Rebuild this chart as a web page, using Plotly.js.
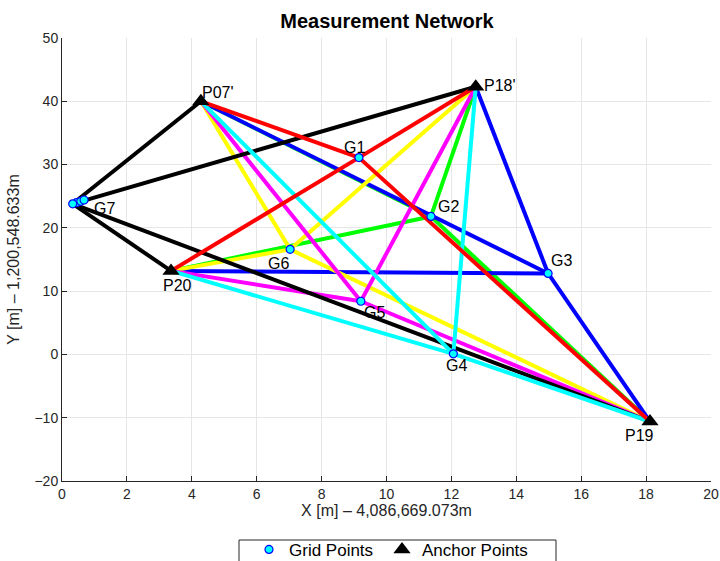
<!DOCTYPE html>
<html>
<head>
<meta charset="utf-8">
<script src="https://cdn.plot.ly/plotly-3.0.1.min.js"></script>
<style>html,body{margin:0;padding:0;background:#fff;}#chart{width:720px;height:561px;}</style>
</head>
<body>
<div id="chart"></div>
<script>
// ---- data ----
const anchorNames = ["P07'", "P18'", "P19", "P20"];
const anchorX = [4.28, 12.75, 18.12, 3.36];
const anchorY = [40.0, 42.3, -10.6, 13.2];

const gridNames = ["G1", "G2", "G3", "G4", "G5", "G6", "G7"];
const gridX = [9.15, 11.37, 14.98, 12.06, 9.21, 7.03, 0.33];
const gridY = [31.1, 21.8, 12.8, 0.1, 8.4, 16.6, 23.8];

// repeated observations of G7 (cluster)
const g7RepeatX = [0.45, 0.58, 0.68];
const g7RepeatY = [24.0, 24.2, 24.4];

// ---- styles ----
const lineColors = ["#FF0000", "#00FF00", "#0000FF", "#00FFFF", "#FF00FF", "#FFFF00", "#000000"];
const drawOrder = [1, 2, 5, 4, 6, 3, 0];
const FONT = "Liberation Sans, Arial, Helvetica, sans-serif";
// label offsets in pixels (dx right, dy down)
const gridLabelOff = [[-4, -10], [18, -10], [13, -13], [3, 12], [14, 11], [-12, 14], [32, 5]];
const anchorLabelOff = [[17, -9], [24, -1], [-10, 14], [6, 15]];

const traces = [];
drawOrder.forEach(function (g) {
  const xs = [], ys = [];
  for (let a = 0; a < anchorX.length; a++) {
    xs.push(anchorX[a], gridX[g], null);
    ys.push(anchorY[a], gridY[g], null);
  }
  traces.push({
    type: "scatter", mode: "lines", x: xs, y: ys,
    line: {color: lineColors[g], width: 4}, showlegend: false, hoverinfo: "skip"
  });
});

traces.push({
  type: "scatter", mode: "markers", name: "Grid Points", legend: "legend",
  x: g7RepeatX.concat(gridX), y: g7RepeatY.concat(gridY),
  marker: {symbol: "circle", size: 8, color: "#00FFFF", line: {color: "#0000FF", width: 1.2}}
});
traces.push({
  type: "scatter", mode: "markers", name: "Anchor Points", legend: "legend2",
  x: anchorX, y: anchorY,
  marker: {symbol: "triangle-up", size: 15, color: "#000000", line: {width: 0}}
});

const annotations = [];
gridNames.forEach(function (n, i) {
  annotations.push({x: gridX[i], y: gridY[i], text: n, showarrow: false,
    xanchor: "center", yanchor: "middle", xshift: gridLabelOff[i][0], yshift: -gridLabelOff[i][1],
    font: {family: FONT, size: 16, color: "#000"}});
});
anchorNames.forEach(function (n, i) {
  annotations.push({x: anchorX[i], y: anchorY[i], text: n, showarrow: false,
    xanchor: "center", yanchor: "middle", xshift: anchorLabelOff[i][0], yshift: -anchorLabelOff[i][1],
    font: {family: FONT, size: 16, color: "#000"}});
});

const axisCommon = {
  showgrid: true, gridcolor: "#e6e6e6", gridwidth: 1,
  zeroline: false, showline: true, linecolor: "#262626", linewidth: 1,
  ticks: "inside", ticklen: 5, tickcolor: "#262626",
  tickfont: {family: FONT, size: 14, color: "#262626"}
};

const legendCommon = {
  orientation: "h", xref: "container", yref: "container",
  xanchor: "left", y: 0.052, yanchor: "top",
  borderwidth: 0, bgcolor: "rgba(0,0,0,0)",
  font: {family: FONT, size: 17, color: "#000"}
};

const layout = {
  width: 720, height: 561,
  margin: {l: 62, r: 9, t: 38, b: 80, autoexpand: false},
  paper_bgcolor: "#ffffff", plot_bgcolor: "#ffffff",
  title: {text: "<b>Measurement Network</b>", x: 0.5375, xanchor: "center", y: 0.962, yanchor: "middle",
    font: {family: FONT, size: 20, color: "#000"}},
  xaxis: Object.assign({}, axisCommon, {
    range: [0, 20], dtick: 2, tick0: 0, automargin: false,
    title: {text: "X [m] – 4,086,669.073m", standoff: 4, font: {family: FONT, size: 16, color: "#262626"}}
  }),
  yaxis: Object.assign({}, axisCommon, {
    range: [-20, 50], dtick: 10, tick0: 0, automargin: false,
    title: {text: "Y [m] – 1,200,548.633m", standoff: 10, font: {family: FONT, size: 16, color: "#262626"}}
  }),
  legend: Object.assign({}, legendCommon, {x: 249 / 720}),
  legend2: Object.assign({}, legendCommon, {x: 382 / 720}),
  shapes: [{
    type: "rect", xref: "paper", yref: "paper",
    x0: (239 - 62) / 649, x1: (556 - 62) / 649, y0: (481 - 540) / 443, y1: (481 - 580) / 443,
    line: {color: "#262626", width: 1}, fillcolor: "rgba(0,0,0,0)", layer: "above"
  }],
  annotations: annotations,
  showlegend: true
};

Plotly.newPlot("chart", traces, layout, {displayModeBar: false, staticPlot: true});
</script>
</body>
</html>
